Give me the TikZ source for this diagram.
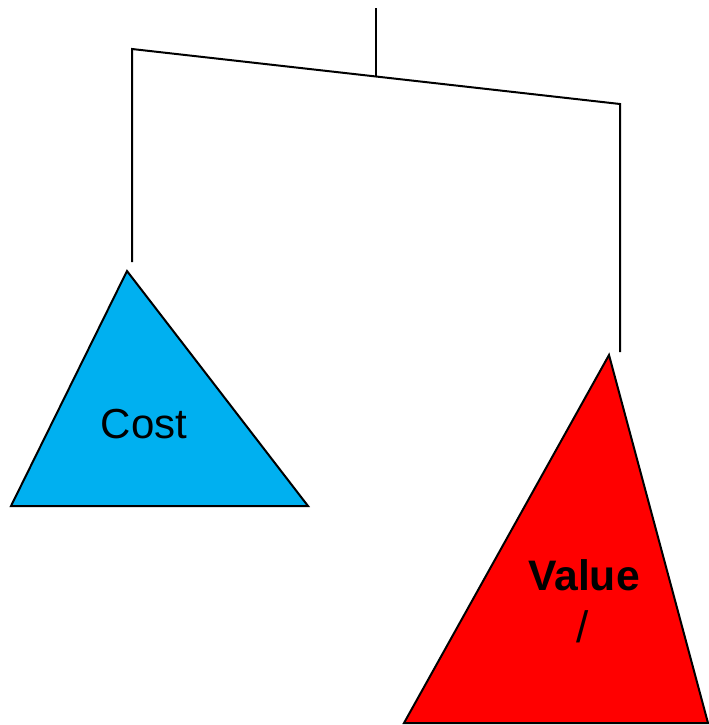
\documentclass[tikz,border=0pt]{standalone}
\usepackage{fontspec}
\setmainfont{Liberation Sans}
\usepackage{tikz}
\usetikzlibrary{positioning,calc}
\definecolor{costblue}{RGB}{0,176,240}
\definecolor{valuered}{RGB}{255,0,0}

\begin{document}
\begin{tikzpicture}[x=0.75pt, y=-0.75pt, line width=1.5pt,
    beam/.style={draw=black, line cap=butt},
    weight/.style={draw=black, line join=miter}]
  \useasboundingbox (0,0) rectangle (708,725);

  % hanger and beam
  \coordinate (hook) at (376,8);
  \coordinate (pivot) at (376,76.5);
  \coordinate (beamL) at (132,49);
  \coordinate (beamR) at (620,104);
  \coordinate (hangL) at (132,262);
  \coordinate (hangR) at (620,352);
  \draw[beam] (hook) -- (pivot);
  \draw[beam] (hangL) -- (beamL) -- (beamR) -- (hangR);

  % weights
  \filldraw[weight, fill=costblue] (127,271) -- (308,506) -- (11,506) -- cycle;
  \filldraw[weight, fill=valuered] (609,355) -- (708,723) -- (404,723) -- cycle;

  \node[anchor=base, font=\fontsize{31.5}{38}\selectfont, inner sep=0pt] (cost) at (144,438) {Cost};
  \node[anchor=base, font=\fontsize{32}{38}\selectfont\bfseries, inner sep=0pt] (value) at (584,590) {Value};
  \node[anchor=base, font=\fontsize{33}{38}\selectfont, inner sep=0pt] (slash) at (583,642) {/};
\end{tikzpicture}
\end{document}
